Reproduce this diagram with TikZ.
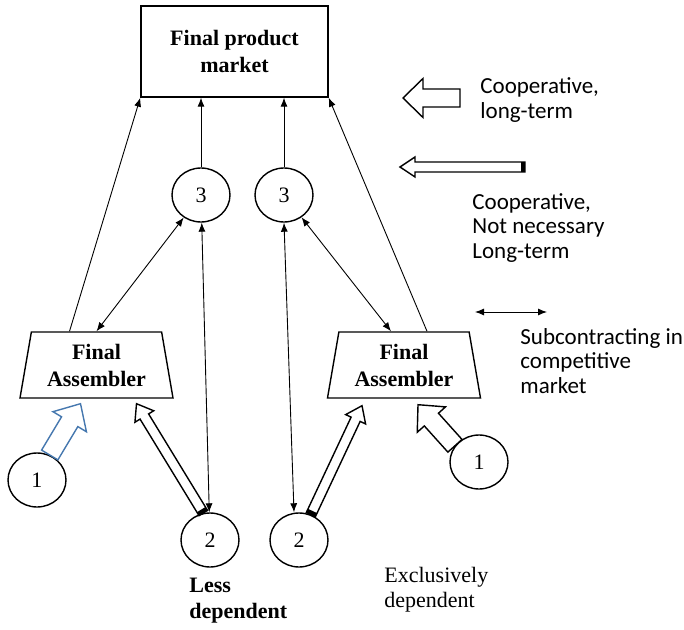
\documentclass[tikz,border=0pt]{standalone}
\usepackage{fontspec}
\setmainfont{Liberation Serif}
\newfontfamily\calibri{Carlito}
\usepackage{xcolor}
\usepackage{tikz}
\usetikzlibrary{shapes,arrows.meta,positioning,calc}

\definecolor{arrowblue}{RGB}{70,120,175}

% hollow block arrow: [style]{tail}{tip}{half shaft}{half head}{head length}
\newcommand{\fatarrow}[6][]{%
  \coordinate (fa-h) at ($(#3)!#6!(#2)$);
  \draw[#1] ($(#2)!#4!90:(#3)$) -- ($(fa-h)!#4!90:(#3)$) -- ($(fa-h)!#5!90:(#3)$) -- (#3)
    -- ($(fa-h)!#5!-90:(#3)$) -- ($(fa-h)!#4!-90:(#3)$) -- ($(#2)!#4!-90:(#3)$) -- cycle;
}
% black bar at the tail of a narrow block arrow
\newcommand{\tailcap}[3]{%
  \coordinate (fa-t) at ($(#1)!1pt!(#2)$);
  \draw[line width=2pt] ($(fa-t)!#3!90:(#2)$) -- ($(fa-t)!#3!-90:(#2)$);
}

\begin{document}
\begin{tikzpicture}[
    x=0.5pt, y=-0.5pt,
    box/.style={draw, rectangle, line width=0.7pt, minimum width=93.5pt, minimum height=45.5pt, align=center, font=\bfseries\fontsize{11}{13.5}\selectfont},
    asm/.style={draw, trapezium, trapezium angle=75, trapezium stretches body, line width=0.7pt, minimum width=76.5pt, minimum height=33pt, inner sep=0pt, align=center, font=\bfseries\fontsize{11}{13.5}\selectfont},
    firm/.style={draw, ellipse, line width=0.7pt, minimum width=29pt, minimum height=27pt, inner sep=0pt, font=\fontsize{11}{13}\selectfont},
    link/.style={line width=0.45pt, -{Latex[length=4.5pt,width=3.5pt]}},
    twoway/.style={line width=0.45pt, {Latex[length=4.5pt,width=3.5pt]}-{Latex[length=4.5pt,width=3.5pt]}},
    fat/.style={draw, line width=0.7pt, fill=white},
    note/.style={align=left, anchor=west, inner sep=0pt, font=\calibri\fontsize{11.5}{12.3}\selectfont}
]
    \useasboundingbox (0,0) rectangle (684,630);

    \node[box] (market) at (234.5,51.5) {Final product\\market};
    \node[firm] (c3L) at (201,195) {3};
    \node[firm, right of=c3L, node distance=41.5pt] (c3R) {3};
    \node[asm] (asmL) at (96.5,365) {Final\\Assembler};
    \node[asm] (asmR) at (404,365) {Final\\Assembler};
    \node[firm] (c2L) at (210,540) {2};
    \node[firm, right of=c2L, node distance=44.5pt] (c2R) {2};
    \node[firm] (c1L) at (37,480) {1};
    \node[firm] (c1R) at (479,462) {1};

    % links to the market
    \draw[link] ([xshift=-13.5pt]asmL.north) -- (market.south west);
    \draw[link] ([xshift=11.5pt]asmR.north) -- (market.south east);
    \draw[link] (c3L) -- (c3L |- market.south);
    \draw[link] (c3R) -- (c3R |- market.south);

    % subcontracting
    \draw[twoway] (asmL.north) -- (c3L);
    \draw[twoway] ([xshift=-6.5pt]asmR.north) -- (c3R);
    \draw[twoway] (c3L) -- (c2L);
    \draw[twoway] (c3R.south) -- ([xshift=-2.5pt]c2R.north);

    % block arrows into the assemblers
    \coordinate (tipL1) at ([xshift=-8pt,yshift=-2.5pt]asmL.south);
    \fatarrow[fat, draw=arrowblue]{c1L.63}{tipL1}{4.75pt}{9.75pt}{10.5pt}
    \coordinate (tipL2) at ([xshift=20pt,yshift=-2.5pt]asmL.south);
    \fatarrow[fat]{c2L.104}{tipL2}{2.5pt}{5.5pt}{7.5pt}
    \tailcap{c2L.104}{tipL2}{2.5pt}
    \coordinate (tipR2) at ([xshift=-21pt,yshift=-3.5pt]asmR.south);
    \fatarrow[fat]{c2R.65}{tipR2}{2.5pt}{5.5pt}{7.5pt}
    \tailcap{c2R.65}{tipR2}{2.5pt}
    \coordinate (tipR1) at ([xshift=7pt,yshift=-3pt]asmR.south);
    \fatarrow[fat]{c1R.146}{tipR1}{4.75pt}{9.5pt}{10pt}

    % legend
    \coordinate (lgA-tail) at (460,98);
    \coordinate (lgA-tip) at (403,98);
    \fatarrow[fat]{lgA-tail}{lgA-tip}{4.5pt}{9.75pt}{10pt}
    \coordinate (lgB-tail) at (525,167);
    \coordinate (lgB-tip) at (400,167);
    \fatarrow[fat]{lgB-tail}{lgB-tip}{2.5pt}{5pt}{7.5pt}
    \tailcap{lgB-tail}{lgB-tip}{2.5pt}
    \coordinate (lgC-a) at (475,312);
    \coordinate (lgC-b) at (547,312);
    \draw[twoway] (lgC-a) -- (lgC-b);

    \node[note] (lgA-txt) at (480,100) {Cooperative,\\long-term};
    \node[note] (lgB-txt) at (472,228) {Cooperative,\\Not necessary\\Long-term};
    \node[note] (lgC-txt) at (520,361) {Subcontracting in\\competitive\\market};
    \node[note, font=\fontsize{11}{12.5}\selectfont] (excl) at (384,590) {Exclusively\\dependent};
    \node[note, font=\bfseries\fontsize{11}{13}\selectfont] (less) at (189,601) {Less\\dependent};
\end{tikzpicture}
\end{document}
